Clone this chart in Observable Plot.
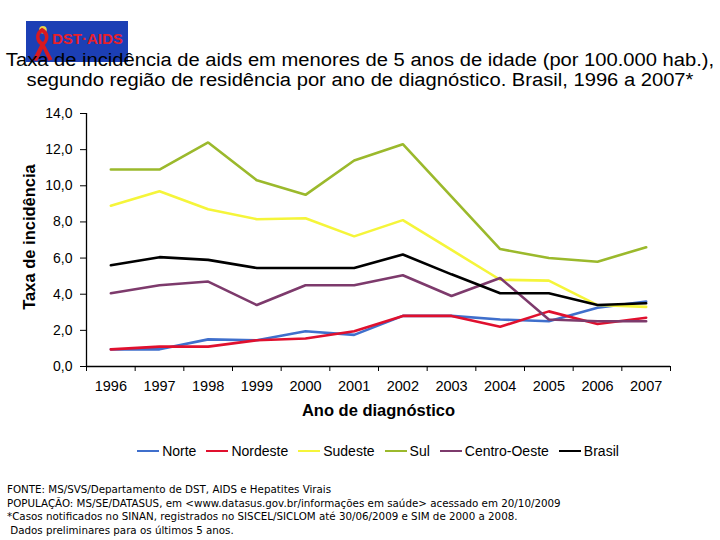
<!DOCTYPE html>
<html>
<head>
<meta charset="utf-8">
<script src="https://cdn.jsdelivr.net/npm/d3@7"></script>
<script src="https://cdn.jsdelivr.net/npm/@observablehq/plot@0.6"></script>
<style>
  html, body { margin: 0; padding: 0; background: #fff; }
  body { width: 720px; height: 540px; position: relative; overflow: hidden; font-family: "Liberation Sans", Arial, sans-serif; }
  #logo { position: absolute; left: 26px; top: 21px; width: 102px; height: 41px; background: #1c3fb5; }
  #logo .txt { position: absolute; left: 26px; top: 9px; color: #e8202a; font: bold 15px "Liberation Sans", Arial, sans-serif; }
  #logo svg { position: absolute; left: 4px; top: 3px; }
  #title { position: absolute; left: 0; top: 50px; width: 720px; text-align: center; font-size: 18px; line-height: 20px; color: #000; transform: scaleX(1.12); transform-origin: 360px 0; }
  #chart { position: absolute; left: 0; top: 100px; }
  #legend { position: absolute; left: 86px; width: 584px; top: 443px; display: flex; justify-content: center; font-size: 14px; color: #000; }
  #legend .item { display: flex; align-items: center; margin: 0 5px; }
  #legend .sw { width: 22px; height: 2px; margin-right: 3px; }
  #foot { position: absolute; left: 7px; top: 483px; font-family: "DejaVu Sans", Verdana, sans-serif; font-size: 10.3px; line-height: 13.5px; color: #000; white-space: pre; }
</style>
</head>
<body>
<div id="logo">
  <svg width="24" height="38" viewBox="0 0 24 40">
    <circle cx="13" cy="6" r="4" fill="#e6d44a"/>
    <path d="M12 4 C4 8, 4 18, 10 22 L2 38 L7 39 L13 26 L19 39 L23 37 L15 22 C21 16, 20 8, 12 4 Z M12 9 C16 12, 16 16, 13 19 C9 16, 8 12, 12 9 Z" fill="#d71920"/>
  </svg>
  <div class="txt">DST·AIDS</div>
</div>
<div id="title">Taxa de incidência de aids em menores de 5 anos de idade (por 100.000 hab.),<br>segundo região de residência por ano de diagnóstico. Brasil, 1996 a 2007*</div>
<div id="chart"></div>
<div id="legend"></div>
<div id="foot">FONTE: MS/SVS/Departamento de DST, AIDS e Hepatites Virais
POPULAÇÃO: MS/SE/DATASUS, em &lt;www.datasus.gov.br/informações em saúde&gt; acessado em 20/10/2009
*Casos notificados no SINAN, registrados no SISCEL/SICLOM até 30/06/2009 e SIM de 2000 a 2008.
 Dados preliminares para os últimos 5 anos.</div>
<script>
const years = [1996, 1997, 1998, 1999, 2000, 2001, 2002, 2003, 2004, 2005, 2006, 2007];
const seriesNames = ["Norte", "Nordeste", "Sudeste", "Sul", "Centro-Oeste", "Brasil"];
const seriesColors = ["#3f6fcc", "#e0102e", "#f5f53a", "#9bb92c", "#7d3a6c", "#000000"];
const norte       = [0.95, 0.95, 1.5, 1.45, 1.95, 1.75, 2.8, 2.8, 2.6, 2.5, 3.25, 3.6];
const nordeste    = [0.95, 1.1, 1.1, 1.45, 1.55, 1.95, 2.8, 2.8, 2.2, 3.05, 2.35, 2.7];
const sudeste     = [8.9, 9.7, 8.7, 8.15, 8.2, 7.2, 8.1, 6.45, 4.8, 4.75, 3.4, 3.3];
const sul         = [10.9, 10.9, 12.4, 10.3, 9.5, 11.4, 12.3, 9.4, 6.5, 6.0, 5.8, 6.6];
const centroOeste = [4.05, 4.5, 4.7, 3.4, 4.5, 4.5, 5.05, 3.9, 4.9, 2.6, 2.5, 2.5];
const brasil      = [5.6, 6.05, 5.9, 5.45, 5.45, 5.45, 6.2, 5.1, 4.05, 4.05, 3.4, 3.5];
const yTicks = [0, 2, 4, 6, 8, 10, 12, 14];
const xTitle = "Ano de diagnóstico";
const yTitle = "Taxa de incidência";

const allValues = [norte, nordeste, sudeste, sul, centroOeste, brasil];
const data = [];
seriesNames.forEach((name, i) => {
  years.forEach((yr, j) => data.push({ series: name, year: yr, value: allValues[i][j] }));
});
const boundaries = years.map(y => y - 0.5).concat([years[years.length - 1] + 0.5]);
const fmt = d => d.toFixed(1).replace(".", ",");

const chart = Plot.plot({
  width: 720,
  height: 330,
  marginLeft: 86,
  marginRight: 50,
  marginTop: 13,
  marginBottom: 64,
  style: { fontFamily: "'Liberation Sans', Arial, sans-serif", background: "transparent", color: "#000" },
  x: { type: "linear", domain: [boundaries[0], boundaries[boundaries.length - 1]] },
  y: { domain: [0, 14] },
  color: { domain: seriesNames, range: seriesColors },
  marks: [
    Plot.axisY({ ticks: yTicks, tickSize: 6, tickPadding: 8, tickFormat: fmt, fontSize: 14, label: null }),
    Plot.axisX({ ticks: boundaries, tickSize: 5, tickFormat: () => "", label: null }),
    Plot.axisX({ ticks: years, tickSize: 0, tickPadding: 14, tickFormat: d => String(d), fontSize: 14.5, label: null }),
    Plot.ruleY([0], { stroke: "#000", strokeWidth: 1.3 }),
    Plot.ruleX([boundaries[0]], { stroke: "#000", strokeWidth: 1.3 }),
    Plot.line(data, { x: "year", y: "value", stroke: "series", z: "series", strokeWidth: 2.6, strokeLinejoin: "miter", curve: "linear" }),
    Plot.text([xTitle], { frameAnchor: "bottom", dy: 49, fontSize: 16.5, fontWeight: "bold" }),
    Plot.text([yTitle], { frameAnchor: "left", textAnchor: "middle", dx: -57, dy: -3, rotate: -90, fontSize: 16.5, fontWeight: "bold" })
  ]
});
document.getElementById("chart").appendChild(chart);

const legend = document.getElementById("legend");
seriesNames.forEach((name, i) => {
  const item = document.createElement("div");
  item.className = "item";
  const sw = document.createElement("span");
  sw.className = "sw";
  sw.style.background = seriesColors[i];
  const lab = document.createElement("span");
  lab.textContent = name;
  item.appendChild(sw);
  item.appendChild(lab);
  legend.appendChild(item);
});
</script>
</body>
</html>
